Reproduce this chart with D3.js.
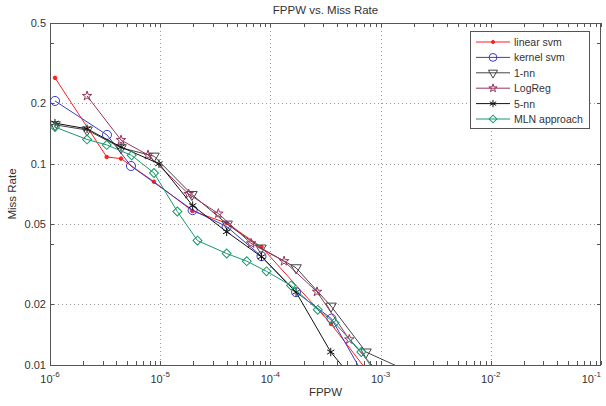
<!DOCTYPE html>
<html lang="en">
<head>
    <meta charset="UTF-8">
    <title>FPPW vs. Miss Rate</title>
    <script src="https://d3js.org/d3.v7.min.js"></script>
    <style>
      body { margin: 0; background: #fff; }
      text { font-family: "Liberation Sans", Arial, sans-serif; fill: #333; }
    </style>
</head>
<body>
    <div id="my_dataviz"></div>
    <script>

    // data (FPPW, miss rate)
    const linearX = [1.11e-6, 3.27e-6, 4.41e-6, 8.78e-6, 1.96e-5, 4.01e-5, 8.3e-5, 3.55e-4, 7.98e-4];
    const linearY = [0.267, 0.108, 0.106, 0.0814, 0.0582, 0.0507, 0.0385, 0.0160, 0.009];

    const kernelX = [1.11e-6, 3.29e-6, 5.43e-6, 1.97e-5, 4.01e-5, 8.3e-5, 1.71e-4, 3.58e-4, 6.94e-4];
    const kernelY = [0.205, 0.139, 0.0974, 0.0588, 0.0487, 0.0347, 0.0230, 0.0170, 0.009];

    const nn1X = [1.11e-6, 2.17e-6, 4.41e-6, 8.78e-6, 1.94e-5, 4.05e-5, 8.21e-5, 1.71e-4, 3.55e-4, 7.37e-4, 1.63e-3];
    const nn1Y = [0.156, 0.147, 0.120, 0.109, 0.0703, 0.0501, 0.0381, 0.0304, 0.0196, 0.0116, 0.00952];

    const logregX = [2.17e-6, 4.41e-6, 7.75e-6, 1.81e-5, 3.37e-5, 6.67e-5, 1.33e-4, 2.65e-4, 5.2e-4, 9.87e-4];
    const logregY = [0.217, 0.131, 0.1105, 0.0707, 0.0565, 0.0402, 0.0328, 0.0231, 0.0134, 0.009];

    const nn5X = [1.11e-6, 2.17e-6, 4.41e-6, 9.75e-6, 1.97e-5, 4.01e-5, 8.3e-5, 1.71e-4, 3.53e-4, 5.19e-4];
    const nn5Y = [0.159, 0.149, 0.121, 0.100, 0.0619, 0.0459, 0.0345, 0.0230, 0.0116, 0.009];

    const mlnX = [1.11e-6, 2.17e-6, 3.27e-6, 5.51e-6, 8.78e-6, 1.43e-5, 2.18e-5, 4.01e-5, 6.1e-5, 9.22e-5, 1.54e-4, 2.69e-4, 3.82e-4, 6.68e-4, 9.16e-4];
    const mlnY = [0.152, 0.132, 0.124, 0.110, 0.0899, 0.0579, 0.0415, 0.0358, 0.0328, 0.0292, 0.0248, 0.0188, 0.0162, 0.0116, 0.009];

    const seriesNames = ["linear svm", "kernel svm", "1-nn", "LogReg", "5-nn", "MLN approach"];
    const xTicks = [1e-6, 1e-5, 1e-4, 1e-3, 1e-2, 1e-1];
    const xTickExp = ["-6", "-5", "-4", "-3", "-2", "-1"];
    const yTicks = [0.01, 0.02, 0.05, 0.1, 0.2, 0.5];
    const yMinorTicks = [0.04, 0.4];

    const margin = {top: 23, right: 5, bottom: 41, left: 50},
      width = 606 - margin.left - margin.right,
      height = 406 - margin.top - margin.bottom;

    const svg = d3.select("#my_dataviz")
      .append("svg")
        .attr("width", 606)
        .attr("height", 406)
      .append("g")
        .attr("transform", `translate(${margin.left},${margin.top})`);

    const x = d3.scaleLog().domain([1e-6, 1e-1]).range([0, width]);
    const y = d3.scaleLog().domain([0.01, 0.5]).range([height, 0]);

    // minor x ticks 2..9 per decade
    const xMinor = [];
    for (let e = -6; e < -1; e++) {
      for (let k = 2; k <= 9; k++) xMinor.push(k * Math.pow(10, e));
    }

    // grid
    const grid = svg.append("g")
      .attr("stroke", "#9a9a9a")
      .attr("stroke-dasharray", "1,3")
      .attr("stroke-width", 1);
    grid.selectAll(".gx").data(xTicks.slice(1, -1)).join("line")
      .attr("x1", d => Math.round(x(d)) + 0.5).attr("x2", d => Math.round(x(d)) + 0.5)
      .attr("y1", 0).attr("y2", height);
    grid.selectAll(".gy").data(yTicks.slice(1, -1)).join("line")
      .attr("y1", d => Math.round(y(d)) + 0.5).attr("y2", d => Math.round(y(d)) + 0.5)
      .attr("x1", 0).attr("x2", width);

    // ticks (inside, on all four sides)
    const tk = svg.append("g").attr("stroke", "#555").attr("stroke-width", 1);
    const tl = 4;
    xTicks.concat(xMinor).forEach(v => {
      const px = Math.round(x(v)) + 0.5;
      tk.append("line").attr("x1", px).attr("x2", px).attr("y1", height).attr("y2", height - tl);
      tk.append("line").attr("x1", px).attr("x2", px).attr("y1", 0).attr("y2", tl);
    });
    yTicks.concat(yMinorTicks).forEach(v => {
      const py = Math.round(y(v)) + 0.5;
      tk.append("line").attr("y1", py).attr("y2", py).attr("x1", 0).attr("x2", tl);
      tk.append("line").attr("y1", py).attr("y2", py).attr("x1", width).attr("x2", width - tl);
    });

    // box
    svg.append("rect")
      .attr("x", 0.5).attr("y", 0.5)
      .attr("width", width - 1).attr("height", height)
      .attr("fill", "none").attr("stroke", "#555");

    // tick labels
    svg.selectAll(".ylab").data(yTicks).join("text")
      .attr("x", -4).attr("y", d => y(d) + 4)
      .attr("text-anchor", "end")
      .style("font-size", "11px")
      .text(d => d);

    // last label would run off the page, so it is right-aligned at the edge
    const xl = svg.selectAll(".xlab").data(xTicks).join("text")
      .attr("x", (d, i) => i === xTicks.length - 1 ? width : x(d))
      .attr("y", height + 18)
      .attr("text-anchor", (d, i) => i === xTicks.length - 1 ? "end" : "middle")
      .style("font-size", "11px");
    xl.append("tspan").text("10");
    xl.append("tspan").attr("dy", -6).style("font-size", "8px").text((d, i) => xTickExp[i]);

    // titles
    svg.append("text").attr("x", width / 2).attr("y", -9)
      .attr("text-anchor", "middle").style("font-size", "11.5px").text("FPPW vs. Miss Rate");
    svg.append("text").attr("x", width / 2).attr("y", height + 31)
      .attr("text-anchor", "middle").style("font-size", "11.5px").text("FPPW");
    svg.append("text").attr("transform", `translate(-34,${height / 2}) rotate(-90)`)
      .attr("text-anchor", "middle").style("font-size", "11.5px").text("Miss Rate");

    // symbols
    const asterisk = d3.symbolAsterisk || d3.symbolCross;
    const markers = [
      {sym: d3.symbolCircle, size: 10, fill: true, rot: 0},
      {sym: d3.symbolCircle, size: 64, fill: false, rot: 0},
      {sym: d3.symbolTriangle, size: 48, fill: false, rot: 180},
      {sym: d3.symbolStar, size: 28, fill: false, rot: 0},
      {sym: asterisk, size: 50, fill: false, rot: 0},
      {sym: d3.symbolSquare, size: 40, fill: false, rot: 45}
    ];
    const colors = ["#ff1f1f", "#3c3cc8", "#444444", "#99335e", "#111111", "#169a68"];
    const allX = [linearX, kernelX, nn1X, logregX, nn5X, mlnX];
    const allY = [linearY, kernelY, nn1Y, logregY, nn5Y, mlnY];

    svg.append("clipPath").attr("id", "clip")
      .append("rect").attr("width", width).attr("height", height);

    const plot = svg.append("g").attr("clip-path", "url(#clip)");
    const line = d3.line().x(d => x(d[0])).y(d => y(d[1]));

    seriesNames.forEach((name, i) => {
      const pts = allX[i].map((v, j) => [v, allY[i][j]]);
      plot.append("path")
        .datum(pts)
        .attr("fill", "none")
        .attr("stroke", colors[i])
        .attr("stroke-width", 1)
        .attr("d", line);
      plot.selectAll(".m" + i).data(pts).join("path")
        .attr("transform", d => `translate(${x(d[0])},${y(d[1])}) rotate(${markers[i].rot})`)
        .attr("d", d3.symbol().type(markers[i].sym).size(markers[i].size))
        .attr("fill", markers[i].fill ? colors[i] : "none")
        .attr("stroke", colors[i])
        .attr("stroke-width", 1);
    });

    // legend
    const lg = svg.append("g").attr("transform", `translate(${420},${8})`);
    lg.append("rect").attr("x", 0.5).attr("y", 0.5).attr("width", 119).attr("height", 97)
      .attr("fill", "#fff").attr("stroke", "#555");
    seriesNames.forEach((name, i) => {
      const ly = 11 + i * 15.4;
      lg.append("line").attr("x1", 6).attr("x2", 40).attr("y1", ly).attr("y2", ly)
        .attr("stroke", colors[i]);
      lg.append("path")
        .attr("transform", `translate(23,${ly}) rotate(${markers[i].rot})`)
        .attr("d", d3.symbol().type(markers[i].sym).size(markers[i].size * 0.75))
        .attr("fill", markers[i].fill ? colors[i] : "none")
        .attr("stroke", colors[i]);
      lg.append("text").attr("x", 44).attr("y", ly + 4)
        .style("font-size", "10.5px").text(name);
    });

  </script>
</body>
</html>
